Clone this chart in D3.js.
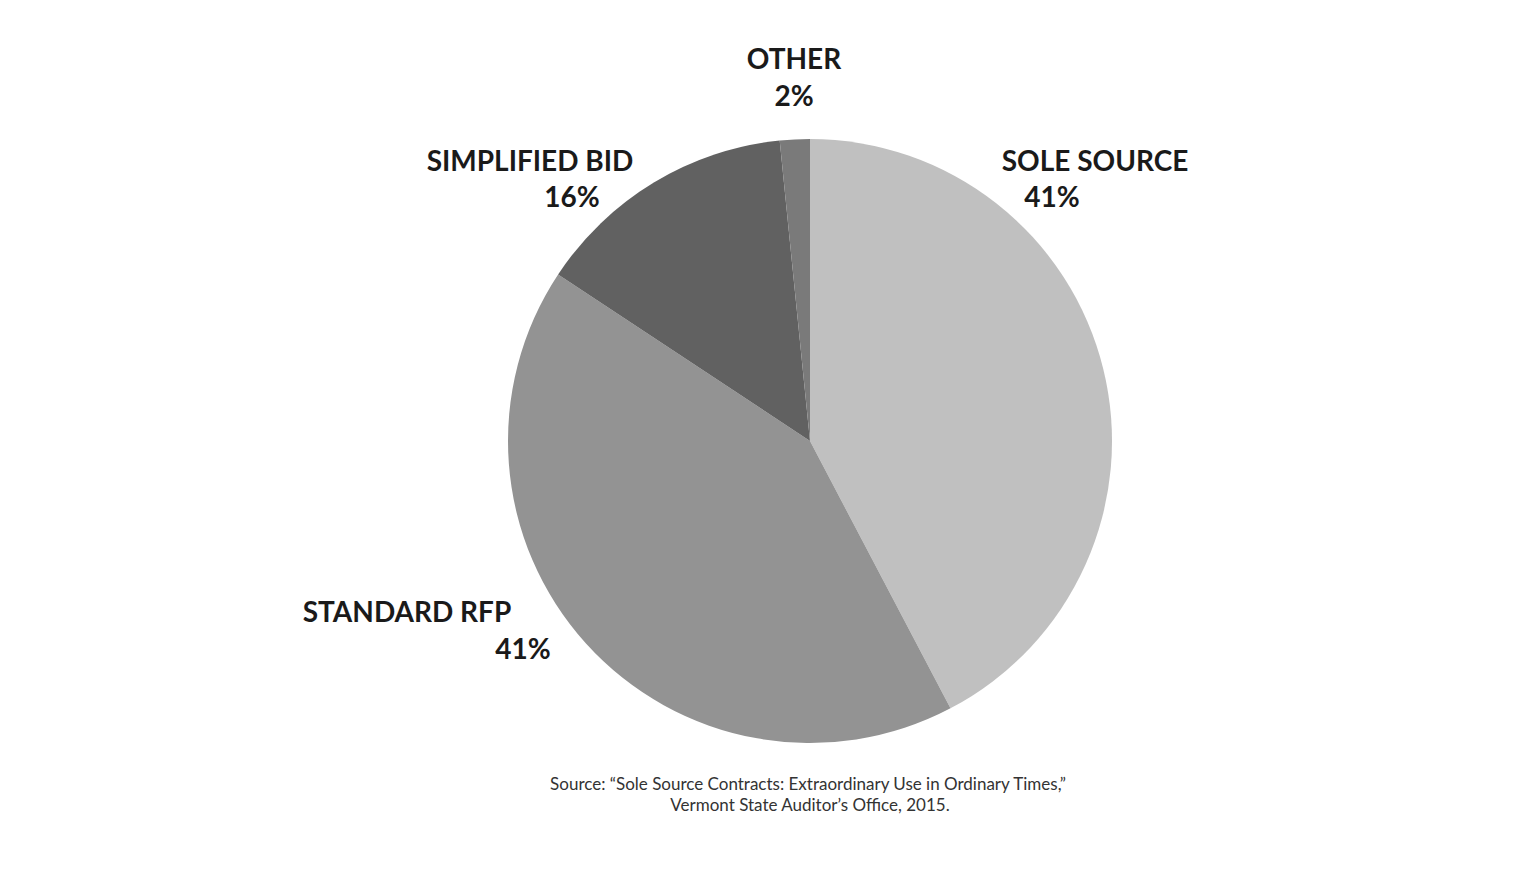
<!DOCTYPE html>
<html>
<head>
<meta charset="utf-8">
<script src="https://cdn.jsdelivr.net/npm/d3@7"></script>
<style>
  body { margin: 0; background: #fff; }
  text { font-family: Lato, "Open Sans", sans-serif; }
</style>
</head>
<body>
<svg id="chart" width="1536" height="875"></svg>
<script>
// slice shares, labels as printed
const categories = ["SOLE SOURCE", "STANDARD RFP", "SIMPLIFIED BID", "OTHER"];
const shares = [42.3, 42.0, 14.1, 1.6];
const pctLabels = ["41%", "41%", "16%", "2%"];
const colors = ["#c0c0c0", "#939393", "#616161", "#7a7a7a"];

// label placement: [name x, name y, pct x, pct y]
const labelPos = [
  [1095, 171, 1052, 207],
  [407, 622, 523, 659],
  [530, 171, 572, 207],
  [794, 69, 794, 106]
];

const svg = d3.select("#chart");
const cx = 810, cy = 441, r = 302;

const pie = d3.pie().sort(null).value(d => d);
const arc = d3.arc().innerRadius(0).outerRadius(r);

const g = svg.append("g").attr("transform", `translate(${cx},${cy})`);
g.selectAll("path")
  .data(pie(shares))
  .join("path")
  .attr("d", arc)
  .attr("fill", (d, i) => colors[i]);

const labels = svg.append("g")
  .attr("font-weight", 700)
  .attr("font-size", 28)
  .attr("fill", "#1a1a1a")
  .attr("text-anchor", "middle");

categories.forEach((c, i) => {
  const p = labelPos[i];
  labels.append("text").attr("x", p[0]).attr("y", p[1]).text(c);
  labels.append("text").attr("x", p[2]).attr("y", p[3]).text(pctLabels[i]);
});

const src = svg.append("g")
  .attr("font-size", 17)
  .attr("fill", "#333")
  .attr("text-anchor", "middle");
src.append("text").attr("x", 808).attr("y", 790)
  .text("Source: \u201cSole Source Contracts: Extraordinary Use in Ordinary Times,\u201d");
src.append("text").attr("x", 810).attr("y", 811)
  .text("Vermont State Auditor\u2019s Office, 2015.");
</script>
</body>
</html>
